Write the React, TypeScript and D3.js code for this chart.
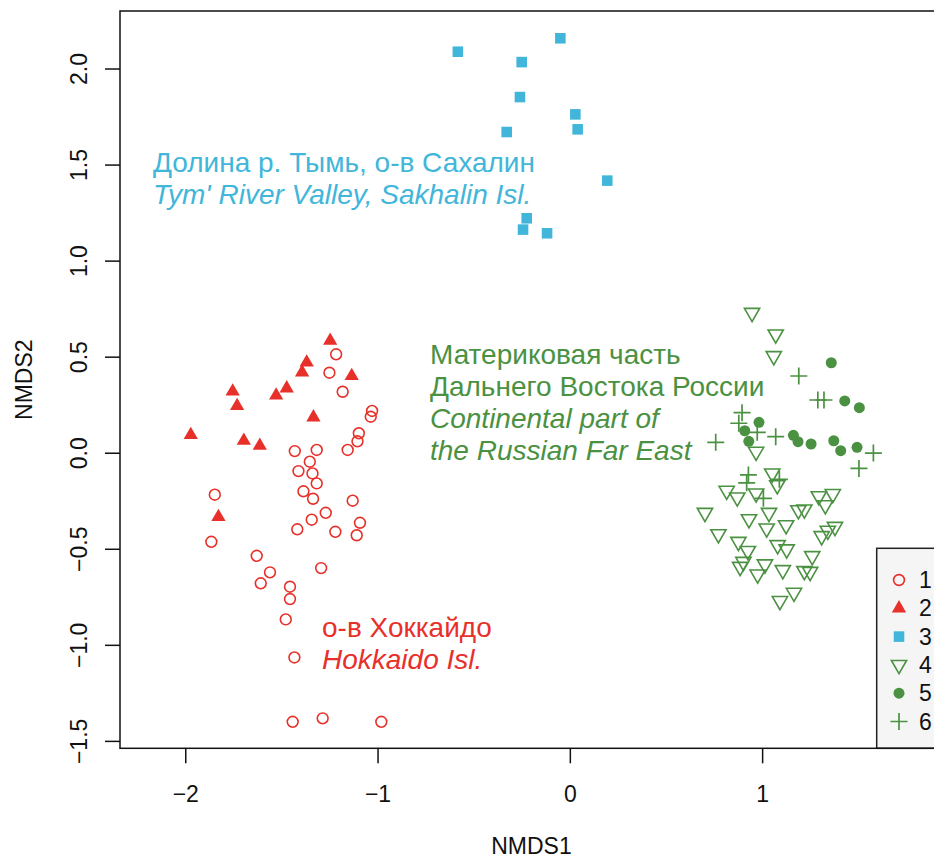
import React, { useRef, useEffect } from 'react';
import * as d3 from 'd3';

// group 1: Hokkaido, open circles
const group1: [number, number][] = [
  [-1.218, 0.515], [-1.253, 0.419], [-1.184, 0.32], [-1.031, 0.22], [-1.038, 0.19],
  [-1.1, 0.104], [-1.107, 0.062], [-1.158, 0.017], [-1.433, 0.011], [-1.319, 0.017],
  [-1.355, -0.044], [-1.414, -0.093], [-1.341, -0.105], [-1.319, -0.157], [-1.388, -0.198],
  [-1.338, -0.237], [-1.132, -0.247], [-1.849, -0.216], [-1.272, -0.31], [-1.345, -0.346],
  [-1.094, -0.362], [-1.42, -0.396], [-1.222, -0.409], [-1.111, -0.427], [-1.867, -0.461],
  [-1.631, -0.534], [-1.562, -0.62], [-1.296, -0.598], [-1.61, -0.677], [-1.458, -0.695],
  [-1.458, -0.759], [-1.48, -0.865], [-1.435, -1.063], [-1.444, -1.398], [-1.288, -1.38],
  [-0.983, -1.398],
];

// group 2: Hokkaido, filled triangles
const group2: [number, number][] = [
  [-1.249, 0.586], [-1.371, 0.473], [-1.395, 0.421], [-1.137, 0.402], [-1.756, 0.322],
  [-1.475, 0.338], [-1.53, 0.301], [-1.733, 0.246], [-1.336, 0.187], [-1.974, 0.095],
  [-1.698, 0.065], [-1.615, 0.039], [-1.83, -0.332],
];

// group 3: Sakhalin, squares
const group3: [number, number][] = [
  [-0.585, 2.09], [-0.052, 2.16], [-0.253, 2.036], [-0.262, 1.854], [0.026, 1.764],
  [0.038, 1.686], [-0.331, 1.672], [0.192, 1.419], [-0.227, 1.223], [-0.246, 1.164],
  [-0.121, 1.145],
];

// group 4: continental, open down triangles
const group4: [number, number][] = [
  [0.945, 0.731], [1.068, 0.619], [1.058, 0.506], [0.966, 0.008], [1.05, -0.105],
  [1.076, -0.166], [0.813, -0.195], [0.868, -0.23], [0.966, -0.209], [1.292, -0.223],
  [1.365, -0.212], [1.326, -0.27], [0.7, -0.31], [1.033, -0.31], [1.186, -0.296],
  [1.217, -0.292], [0.929, -0.343], [1.021, -0.391], [1.122, -0.374], [1.376, -0.383],
  [1.339, -0.403], [1.307, -0.431], [0.77, -0.421], [0.874, -0.461], [0.923, -0.508],
  [1.078, -0.478], [1.125, -0.5], [1.258, -0.535], [0.9, -0.565], [0.883, -0.591],
  [1.012, -0.578], [0.974, -0.631], [1.105, -0.608], [1.217, -0.613], [1.247, -0.617],
  [1.163, -0.726], [1.09, -0.769],
];

// group 5: continental, filled circles
const group5: [number, number][] = [
  [1.357, 0.471], [1.427, 0.272], [1.503, 0.237], [0.981, 0.161], [0.907, 0.117],
  [0.928, 0.062], [1.16, 0.093], [1.184, 0.06], [1.252, 0.048], [1.37, 0.065],
  [1.406, 0.013], [1.491, 0.031],
];

// group 6: continental, pluses
const group6: [number, number][] = [
  [1.188, 0.402], [1.287, 0.277], [1.319, 0.277], [0.893, 0.211], [0.876, 0.156],
  [0.972, 0.109], [1.068, 0.086], [0.756, 0.057], [1.576, 0.001], [1.501, -0.079],
  [0.926, -0.113], [0.917, -0.154], [1.004, -0.235], [1.087, -0.136],
];

const xTicks = [-2, -1, 0, 1];
const yTicks = [-1.5, -1.0, -0.5, 0.0, 0.5, 1.0, 1.5, 2.0];
const legendLabels = ['1', '2', '3', '4', '5', '6'];

const RED = '#E8302A';
const BLUE = '#41B6DA';
const GREEN = '#4B9142';

const App = () => {
  const chartRef = useRef<SVGSVGElement>(null);

  useEffect(() => {
    document.body.style.margin = '0';
    const width = 934;
    const height = 859;
    const plot = { left: 120, top: 11, right: 943, bottom: 748.3 };
    const font = '"Liberation Sans", Arial, Helvetica, sans-serif';

    const svg = d3.select(chartRef.current);
    svg.selectAll('*').remove();
    svg.attr('width', width).attr('height', height);

    //scales
    const x = d3.scaleLinear().domain([-2.342, 1.938]).range([plot.left, plot.right]);
    const y = d3.scaleLinear().domain([-1.536, 2.302]).range([plot.bottom, plot.top]);

    //marker shapes
    const triUp = d3.symbol().type(d3.symbolTriangle).size(88)();
    const square = d3.symbol().type(d3.symbolSquare).size(112)();
    const triDown = d3.symbol().type(d3.symbolTriangle).size(100)();
    const plus = 'M-8.5,0H8.5M0,-8.5V8.5';

    const drawOpenCircle = (g, cx, cy, col) =>
      g.append('circle').attr('cx', cx).attr('cy', cy).attr('r', 5.4)
        .attr('fill', 'none').attr('stroke', col).attr('stroke-width', 1.6);
    const drawFilledCircle = (g, cx, cy, col) =>
      g.append('circle').attr('cx', cx).attr('cy', cy).attr('r', 5.5).attr('fill', col);
    const drawTriUp = (g, cx, cy, col) =>
      g.append('path').attr('d', triUp).attr('transform', `translate(${cx},${cy})`).attr('fill', col);
    const drawSquare = (g, cx, cy, col) =>
      g.append('path').attr('d', square).attr('transform', `translate(${cx},${cy})`).attr('fill', col);
    const drawTriDown = (g, cx, cy, col) =>
      g.append('path').attr('d', triDown).attr('transform', `translate(${cx},${cy}) rotate(180)`)
        .attr('fill', 'none').attr('stroke', col).attr('stroke-width', 1.6);
    const drawPlus = (g, cx, cy, col) =>
      g.append('path').attr('d', plus).attr('transform', `translate(${cx},${cy})`)
        .attr('fill', 'none').attr('stroke', col).attr('stroke-width', 1.7);

    const groups = [
      { data: group1, draw: drawOpenCircle, col: RED },
      { data: group2, draw: drawTriUp, col: RED },
      { data: group3, draw: drawSquare, col: BLUE },
      { data: group4, draw: drawTriDown, col: GREEN },
      { data: group5, draw: drawFilledCircle, col: GREEN },
      { data: group6, draw: drawPlus, col: GREEN },
    ];

    //points
    const pts = svg.append('g');
    groups.forEach(gr => {
      gr.data.forEach(d => gr.draw(pts, x(d[0]), y(d[1]), gr.col));
    });

    //group labels
    const labels = [
      { x: 153, y: 171.7, col: BLUE, lines: [['Долина р. Тымь, о-в Сахалин', false], ["Tym' River Valley, Sakhalin Isl.", true]] },
      { x: 430, y: 363.5, col: GREEN, lines: [['Материковая часть', false], ['Дальнего Востока России', false], ['Continental part of', true], ['the Russian Far East', true]] },
      { x: 322, y: 636.7, col: RED, lines: [['о-в Хоккайдо', false], ['Hokkaido Isl.', true]] },
    ];
    labels.forEach(l => {
      l.lines.forEach((ln, i) => {
        svg.append('text')
          .attr('x', l.x)
          .attr('y', l.y + i * 32.3)
          .attr('fill', l.col)
          .style('font-family', font)
          .style('font-size', '28px')
          .style('font-style', ln[1] ? 'italic' : 'normal')
          .text(ln[0] as string);
      });
    });

    //legend
    const legend = svg.append('g');
    legend.append('rect')
      .attr('x', 876.7).attr('y', 548.3)
      .attr('width', 100).attr('height', plot.bottom - 548.3)
      .attr('fill', '#F4F5F4').attr('stroke', '#222').attr('stroke-width', 1.5);
    legendLabels.forEach((lab, i) => {
      const ly = 580 + i * 28.3;
      groups[i].draw(legend, 899, ly, groups[i].col);
      legend.append('text')
        .attr('x', 919).attr('y', ly + 8)
        .style('font-family', font).style('font-size', '23px')
        .attr('fill', '#111')
        .text(lab);
    });

    //frame
    svg.append('rect')
      .attr('x', plot.left).attr('y', plot.top)
      .attr('width', plot.right - plot.left).attr('height', plot.bottom - plot.top)
      .attr('fill', 'none').attr('stroke', '#111').attr('stroke-width', 1.5);

    //x axis
    const xa = svg.append('g');
    xTicks.forEach(t => {
      xa.append('line').attr('x1', x(t)).attr('x2', x(t)).attr('y1', plot.bottom).attr('y2', plot.bottom + 15)
        .attr('stroke', '#111').attr('stroke-width', 1.5);
      xa.append('text').attr('x', x(t)).attr('y', 801.5).attr('text-anchor', 'middle')
        .style('font-family', font).style('font-size', '23px').attr('fill', '#111')
        .text(d3.format('')(t).replace('-', '\u2212'));
    });

    //y axis
    const ya = svg.append('g');
    yTicks.forEach(t => {
      ya.append('line').attr('x1', plot.left - 15).attr('x2', plot.left).attr('y1', y(t)).attr('y2', y(t))
        .attr('stroke', '#111').attr('stroke-width', 1.5);
      ya.append('text').attr('transform', `translate(86.5,${y(t)}) rotate(-90)`).attr('text-anchor', 'middle')
        .style('font-family', font).style('font-size', '23px').attr('fill', '#111')
        .text(d3.format('.1f')(t).replace('-', '\u2212'));
    });

    //axis titles
    svg.append('text')
      .attr('x', (plot.left + plot.right) / 2).attr('y', 854)
      .attr('text-anchor', 'middle')
      .style('font-family', font).style('font-size', '23px').attr('fill', '#111')
      .text('NMDS1');
    svg.append('text')
      .attr('transform', `translate(31.5,${(plot.top + plot.bottom) / 2}) rotate(-90)`)
      .attr('text-anchor', 'middle')
      .style('font-family', font).style('font-size', '23px').attr('fill', '#111')
      .text('NMDS2');
  }, []);

  return <svg ref={chartRef} style={{ display: 'block' }}></svg>;
};

export default App;
